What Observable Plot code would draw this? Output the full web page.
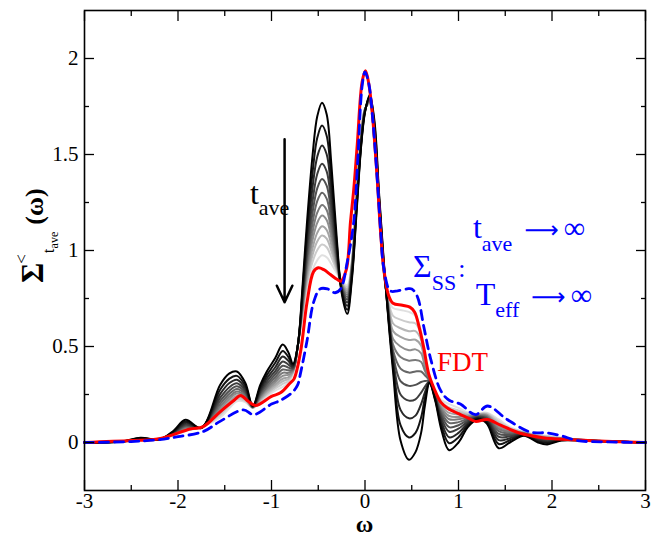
<!DOCTYPE html>
<html>
<head>
<meta charset="utf-8">
<script src="https://cdn.jsdelivr.net/npm/d3@7"></script>
<script src="https://cdn.jsdelivr.net/npm/@observablehq/plot@0.6"></script>
<style>
  html, body { margin: 0; padding: 0; background: #ffffff; }
  #chart svg { display: block; }
</style>
</head>
<body>
<div id="chart"></div>
<script>
// ---------- data ----------
// common omega grid of the t_ave family of curves
const omega = [-3, -2.6, -2.4, -2.2, -2.05, -1.92, -1.75, -1.55, -1.45, -1.37, -1.28, -1.2, -1.12, -1.05, -0.96, -0.88, -0.82, -0.77, -0.72, -0.67, -0.62, -0.56, -0.51, -0.46, -0.41, -0.36, -0.30, -0.25, -0.19, -0.14, -0.09, -0.04, 0.00, 0.05, 0.10, 0.15, 0.20, 0.25, 0.30, 0.38, 0.47, 0.54, 0.60, 0.64, 0.69, 0.75, 0.82, 0.90, 1.00, 1.10, 1.20, 1.30, 1.43, 1.55, 1.70, 1.85, 1.95, 2.10, 2.40, 3.00];

// Sigma^<_{t_ave}(omega), from the shortest t_ave (black) to the longest (light grey)
const tave01 = [0, 0.005, 0.025, 0.015, 0.06, 0.118, 0.075, 0.30, 0.36, 0.37, 0.31, 0.19, 0.30, 0.37, 0.44, 0.51, 0.47, 0.41, 0.50, 0.80, 1.15, 1.50, 1.70, 1.77, 1.71, 1.45, 1.05, 0.78, 0.67, 0.85, 1.20, 1.55, 1.72, 1.81, 1.68, 1.30, 0.95, 0.64, 0.37, 0.01, -0.09, -0.05, 0.05, 0.19, 0.31, 0.22, 0.06, -0.04, 0.0, 0.08, 0.12, 0.10, -0.03, 0.0, 0.035, 0.0, -0.01, 0.01, 0.008, 0];
const tave02 = [0, 0.005, 0.023, 0.016, 0.056, 0.109, 0.076, 0.275, 0.333, 0.347, 0.295, 0.189, 0.287, 0.351, 0.415, 0.477, 0.446, 0.403, 0.50, 0.778, 1.098, 1.41, 1.588, 1.651, 1.598, 1.372, 1.025, 0.789, 0.692, 0.865, 1.215, 1.558, 1.723, 1.803, 1.661, 1.285, 0.94, 0.65, 0.40, 0.09, 0.026, 0.05, 0.13, 0.23, 0.313, 0.226, 0.084, -0.004, 0.027, 0.091, 0.125, 0.108, -0.008, 0.012, 0.038, 0.006, -0.003, 0.012, 0.009, 0];
const tave03 = [0, 0.005, 0.021, 0.016, 0.053, 0.102, 0.076, 0.252, 0.310, 0.327, 0.282, 0.187, 0.275, 0.334, 0.392, 0.448, 0.425, 0.396, 0.50, 0.758, 1.052, 1.332, 1.49, 1.547, 1.501, 1.304, 1.002, 0.797, 0.712, 0.878, 1.228, 1.564, 1.726, 1.796, 1.644, 1.272, 0.93, 0.66, 0.42, 0.17, 0.126, 0.14, 0.20, 0.26, 0.316, 0.231, 0.105, 0.027, 0.05, 0.101, 0.128, 0.115, 0.012, 0.022, 0.041, 0.011, 0.003, 0.014, 0.009, 0];
const tave04 = [0, 0.005, 0.020, 0.017, 0.05, 0.095, 0.077, 0.232, 0.288, 0.308, 0.27, 0.186, 0.264, 0.318, 0.372, 0.422, 0.406, 0.39, 0.50, 0.74, 1.01, 1.26, 1.40, 1.452, 1.412, 1.242, 0.982, 0.804, 0.73, 0.89, 1.24, 1.57, 1.728, 1.79, 1.628, 1.26, 0.922, 0.67, 0.44, 0.25, 0.218, 0.225, 0.26, 0.29, 0.318, 0.236, 0.124, 0.056, 0.072, 0.11, 0.132, 0.122, 0.03, 0.032, 0.043, 0.016, 0.008, 0.016, 0.010, 0];
const tave05 = [0, 0.005, 0.019, 0.018, 0.048, 0.089, 0.078, 0.215, 0.27, 0.293, 0.26, 0.185, 0.255, 0.305, 0.355, 0.40, 0.39, 0.385, 0.50, 0.725, 0.975, 1.20, 1.325, 1.373, 1.338, 1.19, 0.965, 0.81, 0.745, 0.90, 1.25, 1.575, 1.73, 1.785, 1.615, 1.25, 0.915, 0.68, 0.46, 0.32, 0.295, 0.30, 0.315, 0.32, 0.32, 0.24, 0.14, 0.08, 0.09, 0.118, 0.135, 0.128, 0.045, 0.04, 0.045, 0.02, 0.013, 0.018, 0.010, 0];
const tave06 = [0, 0.005, 0.017, 0.018, 0.045, 0.084, 0.078, 0.200, 0.254, 0.279, 0.251, 0.184, 0.247, 0.293, 0.340, 0.380, 0.376, 0.381, 0.50, 0.712, 0.944, 1.146, 1.258, 1.301, 1.270, 1.143, 0.950, 0.815, 0.758, 0.909, 1.259, 1.580, 1.732, 1.781, 1.603, 1.241, 0.909, 0.69, 0.48, 0.385, 0.364, 0.37, 0.37, 0.35, 0.322, 0.244, 0.154, 0.102, 0.106, 0.124, 0.138, 0.132, 0.059, 0.047, 0.047, 0.024, 0.017, 0.019, 0.010, 0];
const tave07 = [0, 0.005, 0.016, 0.018, 0.043, 0.079, 0.078, 0.186, 0.239, 0.266, 0.243, 0.183, 0.240, 0.283, 0.326, 0.363, 0.363, 0.377, 0.50, 0.70, 0.916, 1.098, 1.198, 1.237, 1.211, 1.102, 0.936, 0.82, 0.77, 0.917, 1.267, 1.584, 1.733, 1.777, 1.593, 1.233, 0.903, 0.70, 0.51, 0.445, 0.426, 0.43, 0.42, 0.375, 0.323, 0.247, 0.167, 0.121, 0.121, 0.13, 0.14, 0.137, 0.071, 0.054, 0.048, 0.027, 0.02, 0.02, 0.011, 0];
const tave08 = [0, 0.005, 0.015, 0.019, 0.042, 0.075, 0.079, 0.174, 0.227, 0.255, 0.236, 0.183, 0.233, 0.274, 0.314, 0.347, 0.352, 0.373, 0.50, 0.689, 0.891, 1.056, 1.145, 1.182, 1.159, 1.065, 0.924, 0.824, 0.781, 0.924, 1.274, 1.587, 1.735, 1.773, 1.584, 1.226, 0.898, 0.71, 0.54, 0.50, 0.48, 0.485, 0.465, 0.395, 0.325, 0.25, 0.178, 0.138, 0.133, 0.136, 0.142, 0.141, 0.081, 0.059, 0.05, 0.03, 0.023, 0.021, 0.011, 0];
const tave09 = [0, 0.005, 0.014, 0.019, 0.040, 0.071, 0.079, 0.162, 0.214, 0.244, 0.229, 0.182, 0.227, 0.265, 0.302, 0.332, 0.340, 0.370, 0.50, 0.679, 0.867, 1.014, 1.093, 1.126, 1.107, 1.029, 0.912, 0.829, 0.791, 0.931, 1.281, 1.591, 1.736, 1.770, 1.575, 1.219, 0.893, 0.72, 0.58, 0.55, 0.534, 0.535, 0.505, 0.41, 0.326, 0.252, 0.19, 0.154, 0.146, 0.141, 0.144, 0.145, 0.092, 0.065, 0.051, 0.032, 0.026, 0.022, 0.011, 0];
const tave10 = [0, 0.005, 0.014, 0.019, 0.038, 0.068, 0.079, 0.152, 0.203, 0.235, 0.223, 0.181, 0.222, 0.257, 0.292, 0.319, 0.331, 0.367, 0.50, 0.670, 0.846, 0.978, 1.048, 1.078, 1.062, 0.998, 0.902, 0.832, 0.80, 0.937, 1.287, 1.594, 1.737, 1.767, 1.567, 1.213, 0.889, 0.73, 0.62, 0.595, 0.58, 0.58, 0.535, 0.425, 0.327, 0.255, 0.199, 0.169, 0.157, 0.145, 0.146, 0.148, 0.101, 0.07, 0.052, 0.035, 0.029, 0.023, 0.011, 0];
const tave11 = [0, 0.005, 0.013, 0.020, 0.037, 0.064, 0.080, 0.142, 0.193, 0.226, 0.217, 0.181, 0.216, 0.249, 0.282, 0.305, 0.321, 0.364, 0.50, 0.661, 0.825, 0.942, 1.003, 1.031, 1.017, 0.966, 0.892, 0.836, 0.81, 0.943, 1.293, 1.597, 1.739, 1.764, 1.559, 1.207, 0.885, 0.74, 0.66, 0.64, 0.626, 0.62, 0.56, 0.44, 0.329, 0.257, 0.209, 0.183, 0.167, 0.15, 0.148, 0.151, 0.11, 0.074, 0.054, 0.037, 0.032, 0.024, 0.012, 0];
const tave12 = [0, 0.005, 0.012, 0.02, 0.035, 0.06, 0.08, 0.13, 0.18, 0.215, 0.21, 0.18, 0.21, 0.24, 0.27, 0.29, 0.31, 0.36, 0.50, 0.65, 0.80, 0.90, 0.95, 0.975, 0.965, 0.93, 0.88, 0.84, 0.82, 0.95, 1.30, 1.60, 1.74, 1.76, 1.55, 1.20, 0.88, 0.75, 0.70, 0.69, 0.68, 0.66, 0.58, 0.45, 0.33, 0.26, 0.22, 0.20, 0.18, 0.155, 0.15, 0.155, 0.12, 0.08, 0.055, 0.04, 0.035, 0.025, 0.012, 0];

// FDT curve (red)
const fdtOmega  = [-3, -2.5, -2.2, -1.87, -1.73, -1.55, -1.4, -1.33, -1.25, -1.17, -1.0, -0.9, -0.8, -0.76, -0.69, -0.62, -0.55, -0.5, -0.44, -0.37, -0.3, -0.26, -0.2, -0.155, -0.12, -0.083, -0.03, 0.005, 0.04, 0.077, 0.13, 0.166, 0.2, 0.25, 0.3, 0.4, 0.48, 0.53, 0.58, 0.63, 0.68, 0.74, 0.81, 0.88, 1.0, 1.1, 1.18, 1.31, 1.45, 1.66, 1.9, 2.16, 2.5, 3];
const fdtValues = [0, 0.01, 0.02, 0.07, 0.083, 0.16, 0.22, 0.245, 0.215, 0.193, 0.24, 0.26, 0.31, 0.33, 0.47, 0.73, 0.89, 0.91, 0.90, 0.875, 0.85, 0.84, 0.9, 1.15, 1.32, 1.55, 1.88, 1.936, 1.87, 1.72, 1.38, 1.1, 0.91, 0.77, 0.725, 0.715, 0.705, 0.68, 0.6, 0.49, 0.36, 0.28, 0.21, 0.18, 0.15, 0.128, 0.11, 0.12, 0.09, 0.048, 0.025, 0.015, 0.008, 0];

// Sigma_SS curve (blue dashed)
const ssOmega  = [-3, -2.5, -2.22, -2.0, -1.73, -1.55, -1.3, -1.19, -1.0, -0.9, -0.78, -0.72, -0.69, -0.62, -0.55, -0.48, -0.4, -0.32, -0.26, -0.19, -0.12, -0.08, -0.03, 0.0, 0.04, 0.08, 0.13, 0.17, 0.2, 0.27, 0.35, 0.45, 0.5, 0.56, 0.63, 0.7, 0.81, 0.9, 1.02, 1.18, 1.31, 1.52, 1.77, 1.95, 2.1, 2.27, 2.6, 3];
const ssValues = [0, 0.005, 0.014, 0.03, 0.057, 0.11, 0.17, 0.145, 0.2, 0.22, 0.26, 0.3, 0.36, 0.53, 0.73, 0.80, 0.80, 0.78, 0.80, 0.94, 1.15, 1.45, 1.86, 1.93, 1.87, 1.70, 1.38, 1.08, 0.91, 0.79, 0.79, 0.80, 0.80, 0.76, 0.6, 0.44, 0.27, 0.22, 0.2, 0.145, 0.19, 0.12, 0.054, 0.05, 0.035, 0.01, 0.003, 0];

// axis ticks
const xMajor = [-3, -2, -1, 0, 1, 2, 3];
const xMinor = [-2.5, -1.5, -0.5, 0.5, 1.5, 2.5];
const yMajor = [0, 0.5, 1, 1.5, 2];
const yMinor = [0.25, 0.75, 1.25, 1.75];

// ---------- chart ----------
const SERIF = "Liberation Serif, DejaVu Serif, serif";
const family = [tave01, tave02, tave03, tave04, tave05, tave06, tave07, tave08, tave09, tave10, tave11, tave12];
const greyOf = d3.interpolateRgb("#000000", "#e0e0e0");

const familyMarks = [];
for (let k = family.length - 1; k >= 0; k--) {
  const vals = family[k];
  familyMarks.push(Plot.line(omega, {
    x: d => d, y: (d, i) => vals[i],
    stroke: greyOf(k / (family.length - 1)),
    strokeWidth: 2, curve: "catmull-rom"
  }));
}

const blank = () => "";
const tickOpts = {tickFormat: blank, label: null, strokeWidth: 1.3};
const plot = Plot.plot({
  width: 651, height: 537,
  marginLeft: 84, marginRight: 6, marginTop: 10, marginBottom: 47,
  style: {fontFamily: SERIF, fontSize: "21px", color: "black", background: "white"},
  x: {domain: [-3, 3]},
  y: {domain: [-0.25, 2.25]},
  marks: [
    ...familyMarks,
    Plot.line(fdtOmega, {x: d => d, y: (d, i) => fdtValues[i], stroke: "#ff0000", strokeWidth: 3, curve: "catmull-rom"}),
    Plot.line(ssOmega, {x: d => d, y: (d, i) => ssValues[i], stroke: "#0000ff", strokeWidth: 2.8, strokeDasharray: "9,6", curve: "catmull-rom"}),
    Plot.arrow([0], {x1: -0.86, y1: 1.58, x2: -0.86, y2: 0.73, stroke: "black", strokeWidth: 2.5, headLength: 11, headAngle: 50}),
    Plot.frame({stroke: "black", strokeWidth: 1.6}),
    // bottom axis
    Plot.axisX({ticks: xMajor, tickSize: 0, tickPadding: 3, tickFormat: d => String(d), label: null, fontFamily: SERIF, fontSize: 21}),
    Plot.axisX({ticks: xMajor, tickSize: -10, ...tickOpts}),
    Plot.axisX({ticks: xMinor, tickSize: -5, ...tickOpts}),
    // top mirror ticks
    Plot.axisX({anchor: "top", ticks: xMajor, tickSize: -10, ...tickOpts}),
    Plot.axisX({anchor: "top", ticks: xMinor, tickSize: -5, ...tickOpts}),
    // left axis
    Plot.axisY({ticks: yMajor, tickSize: 0, tickPadding: 6, tickFormat: d => String(d), label: null, fontFamily: SERIF, fontSize: 21}),
    Plot.axisY({ticks: yMajor, tickSize: -10, ...tickOpts}),
    Plot.axisY({ticks: yMinor, tickSize: -5, ...tickOpts}),
    // right mirror ticks
    Plot.axisY({anchor: "right", ticks: yMajor, tickSize: -10, ...tickOpts}),
    Plot.axisY({anchor: "right", ticks: yMinor, tickSize: -5, ...tickOpts})
  ]
});

document.getElementById("chart").appendChild(plot);

// ---------- text annotations with sub/superscripts ----------
const svg = d3.select(plot);
const sx = plot.scale("x"), sy = plot.scale("y");

function richText(x, y, color, parts, transform) {
  const t = svg.append("text")
    .attr("fill", color)
    .attr("text-anchor", "start")
    .attr("font-family", SERIF);
  if (transform) t.attr("transform", transform); else t.attr("x", x).attr("y", y);
  for (const p of parts) {
    const s = t.append("tspan").attr("font-size", p.size).text(p.text);
    if (p.dx) s.attr("dx", p.dx);
    if (p.dy) s.attr("dy", p.dy);
    if (p.bold) s.attr("font-weight", "bold");
    if (p.family) s.attr("font-family", p.family);
  }
  return t;
}

const ARROWFONT = "DejaVu Sans, sans-serif";

// t_ave label next to the arrow
richText(sx.apply(-1.225), sy.apply(1.24), "black", [
  {text: "t", size: 32},
  {text: "ave", size: 22, dy: 11}
]);

// Sigma_SS :
richText(sx.apply(0.52), sy.apply(0.857), "#0000ff", [
  {text: "Σ", size: 32},
  {text: "SS", size: 22, dy: 13},
  {text: ":", size: 26, dy: -13, dx: 2}
]);

// t_ave -> infinity
richText(sx.apply(1.16), sy.apply(1.06), "#0000ff", [
  {text: "t", size: 32},
  {text: "ave", size: 22, dy: 13},
  {text: "⟶", size: 24, dy: -13, dx: 12, family: ARROWFONT},
  {text: "∞", size: 30, dx: 5}
]);

// T_eff -> infinity
richText(sx.apply(1.19), sy.apply(0.715), "#0000ff", [
  {text: "T", size: 32},
  {text: "eff", size: 22, dy: 12},
  {text: "⟶", size: 24, dy: -12, dx: 12, family: ARROWFONT},
  {text: "∞", size: 30, dx: 5}
]);

// FDT
richText(sx.apply(0.775), sy.apply(0.37), "#ff0000", [
  {text: "FDT", size: 27}
]);

// y-axis title: Sigma^<_{t_ave}(omega)
richText(0, 0, "black", [
  {text: "Σ", size: 31, bold: true},
  {text: "<", size: 17, dy: -16, dx: -1},
  {text: "t", size: 17, dy: 27, dx: 1},
  {text: "ave", size: 12, dy: 4},
  {text: "(ω)", size: 26, bold: true, dy: -15, dx: 7}
], "translate(43,283) rotate(-90)");

// x-axis title
svg.append("text")
  .attr("x", sx.apply(0)).attr("y", 532)
  .attr("text-anchor", "middle")
  .attr("font-size", 24).attr("font-weight", "bold")
  .attr("font-family", SERIF)
  .text("ω");
</script>
</body>
</html>
